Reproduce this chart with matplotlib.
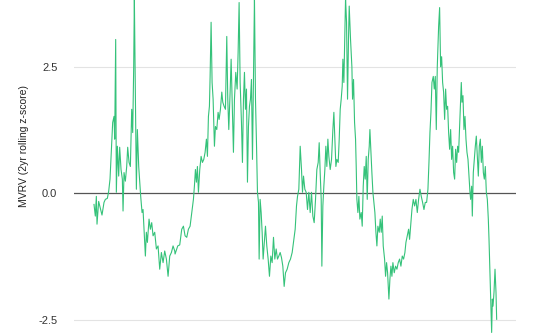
import matplotlib
matplotlib.use('Agg')
import matplotlib.pyplot as plt

# MVRV 2yr rolling z-score (decimal year, value)
years_a = [2012.617, 2012.661, 2012.695, 2012.717, 2012.772, 2012.839, 2012.883, 2012.950, 2012.995,
           2013.061, 2013.106, 2013.150, 2013.195, 2013.239, 2013.284, 2013.306, 2013.339, 2013.361,
           2013.395, 2013.439, 2013.472, 2013.517, 2013.561, 2013.584, 2013.617, 2013.661, 2013.706,
           2013.739, 2013.784, 2013.828, 2013.873, 2013.906, 2013.939, 2013.961, 2013.995, 2014.028,
           2014.061, 2014.106, 2014.150, 2014.172, 2014.217, 2014.250, 2014.284, 2014.328, 2014.361,
           2014.395, 2014.450, 2014.495, 2014.539, 2014.584, 2014.639, 2014.695, 2014.750, 2014.806,
           2014.861, 2014.917, 2014.972, 2015.028, 2015.084, 2015.139, 2015.195, 2015.250, 2015.306]
mvrv_a = [-0.22, -0.45, -0.06, -0.61, -0.16, -0.32, -0.43, -0.18, -0.12,
          -0.10, 0.04, 0.28, 0.87, 1.40, 1.52, 1.07, 3.04, 0.02,
          0.93, 0.34, 0.91, 0.47, 0.28, -0.35, 0.41, 0.24, 0.53,
          0.91, 0.61, 0.53, 1.66, 1.20, 2.50, 3.85, 2.00, 0.08,
          1.26, 0.53, 0.14, -0.06, -0.38, -0.32, -0.71, -1.24, -0.77,
          -0.97, -0.51, -0.71, -0.58, -0.84, -0.77, -1.10, -1.04, -1.50,
          -1.17, -1.37, -1.14, -1.30, -1.64, -1.24, -1.17, -1.04, -1.14]

years_b = [2015.317, 2015.406, 2015.472, 2015.539, 2015.595, 2015.650, 2015.706, 2015.761, 2015.817,
           2015.873, 2015.928, 2015.961, 2015.995, 2016.028, 2016.061, 2016.095, 2016.139, 2016.184,
           2016.228, 2016.273, 2016.317, 2016.361, 2016.395, 2016.428, 2016.461, 2016.484, 2016.517,
           2016.550, 2016.584, 2016.628, 2016.661, 2016.706, 2016.750, 2016.784, 2016.828, 2016.873,
           2016.906, 2016.950, 2016.995, 2017.039, 2017.072, 2017.106, 2017.150, 2017.184, 2017.228,
           2017.261, 2017.295, 2017.339, 2017.384, 2017.417, 2017.450, 2017.484, 2017.528, 2017.561,
           2017.595, 2017.628, 2017.661, 2017.695, 2017.728, 2017.761, 2017.795, 2017.828, 2017.861,
           2017.895, 2017.928, 2017.961, 2017.995, 2018.028, 2018.061, 2018.095, 2018.117, 2018.150,
           2018.184, 2018.217, 2018.250]
mvrv_b = [-1.20, -1.04, -1.02, -0.71, -0.65, -0.84, -0.87, -0.71, -0.65,
          -0.38, -0.12, 0.14, 0.47, 0.22, 0.53, 0.02, 0.47, 0.73,
          0.61, 0.67, 0.81, 1.07, 0.73, 1.52, 1.72, 2.31, 3.38,
          2.19, 1.86, 0.93, 1.32, 1.26, 1.60, 1.46, 1.66, 2.00,
          1.80, 1.72, 1.66, 3.10, 1.86, 1.26, 2.00, 2.65, 1.60,
          0.81, 1.86, 2.39, 2.06, 2.79, 3.77, 2.19, 1.40, 0.61,
          1.86, 2.39, 1.66, 2.06, 0.22, 1.32, 1.72, 1.86, 2.25,
          0.67, 2.31, 3.85, 1.86, 1.00, 0.02, -0.18, -1.30, -0.12,
          -0.38, -0.77, -1.30]

years_c = [2018.328, 2018.372, 2018.417, 2018.461, 2018.506, 2018.550, 2018.595, 2018.639, 2018.684,
           2018.728, 2018.772, 2018.817, 2018.861, 2018.906, 2018.950, 2018.995, 2019.050, 2019.106,
           2019.161, 2019.217, 2019.272, 2019.317, 2019.361, 2019.395, 2019.439, 2019.484, 2019.528,
           2019.561, 2019.595, 2019.639, 2019.684, 2019.728, 2019.772, 2019.817, 2019.861, 2019.906,
           2019.950, 2019.995, 2020.039, 2020.084, 2020.117, 2020.150, 2020.184, 2020.206, 2020.239,
           2020.272, 2020.306, 2020.339, 2020.372, 2020.406, 2020.439, 2020.484, 2020.528, 2020.573,
           2020.606, 2020.639, 2020.673, 2020.706, 2020.750, 2020.784, 2020.817, 2020.850, 2020.884,
           2020.906, 2020.939, 2020.973, 2020.995, 2021.028, 2021.061, 2021.095]
mvrv_c = [-0.65, -1.04, -1.30, -1.64, -1.24, -1.37, -0.87, -1.30, -1.10,
          -1.30, -1.24, -1.17, -1.27, -1.44, -1.84, -1.57, -1.50, -1.37,
          -1.30, -1.17, -0.91, -0.71, -0.25, -0.06, 0.08, 0.93, 0.47,
          0.02, 0.34, 0.08, 0.02, -0.32, 0.02, -0.38, 0.02, -0.45,
          -0.58, -0.12, 0.47, 0.61, 1.00, 0.41, -0.12, -1.44, -0.25,
          0.14, 0.47, 0.93, 0.53, 1.07, 0.73, 0.47, 0.67, 1.26,
          1.60, 1.07, 0.53, 0.67, 0.61, 1.07, 1.66, 1.86, 2.12,
          2.65, 2.19, 3.18, 3.85, 3.38, 1.86, 3.10]

years_d = [2021.117, 2021.161, 2021.206, 2021.228, 2021.261, 2021.295, 2021.328, 2021.350, 2021.372,
           2021.406, 2021.439, 2021.472, 2021.517, 2021.550, 2021.584, 2021.617, 2021.650, 2021.684,
           2021.717, 2021.750, 2021.784, 2021.806, 2021.839, 2021.872, 2021.906, 2021.939, 2021.972,
           2022.006, 2022.039, 2022.072, 2022.117, 2022.150, 2022.184, 2022.217, 2022.250, 2022.295,
           2022.328, 2022.361, 2022.395, 2022.439, 2022.472, 2022.506, 2022.539, 2022.572, 2022.617,
           2022.661, 2022.706, 2022.750, 2022.795, 2022.839, 2022.884, 2022.928, 2022.972, 2023.006,
           2023.050, 2023.095, 2023.128, 2023.161, 2023.206, 2023.250, 2023.295, 2023.339, 2023.384,
           2023.428, 2023.473, 2023.517, 2023.561, 2023.606, 2023.650, 2023.695, 2023.739, 2023.773,
           2023.806, 2023.839, 2023.873, 2023.917, 2023.950, 2023.984, 2024.017, 2024.050, 2024.095]
mvrv_d = [3.70, 3.04, 2.50, 1.86, 2.25, 1.40, 1.07, 0.53, -0.12,
          -0.38, -0.06, -0.51, -0.38, -0.65, 0.14, 0.53, 0.28, 0.73,
          -0.12, 0.67, 0.93, 1.26, 0.81, 0.41, 0.02, -0.18, -0.38,
          -0.77, -1.04, -0.65, -0.77, -0.51, -0.77, -0.45, -1.04, -1.30,
          -1.64, -1.37, -1.57, -2.09, -1.70, -1.44, -1.64, -1.37, -1.57,
          -1.44, -1.50, -1.37, -1.30, -1.44, -1.24, -1.30, -1.17, -0.97,
          -0.84, -0.71, -0.91, -0.65, -0.32, -0.12, -0.25, -0.12, -0.38,
          -0.12, 0.08, -0.06, -0.18, -0.32, -0.18, -0.18, 0.08, 0.61,
          1.20, 1.60, 2.19, 2.31, 2.06, 2.31, 1.26, 2.50, 3.30]

years_e = [2024.128, 2024.161, 2024.195, 2024.228, 2024.261, 2024.295, 2024.328, 2024.361, 2024.395,
           2024.428, 2024.461, 2024.495, 2024.528, 2024.561, 2024.595, 2024.628, 2024.661, 2024.695,
           2024.728, 2024.761, 2024.795, 2024.828, 2024.850, 2024.873, 2024.906, 2024.939, 2024.973,
           2025.006, 2025.039, 2025.073, 2025.106, 2025.139, 2025.161, 2025.195, 2025.217, 2025.250,
           2025.284, 2025.317, 2025.350, 2025.384, 2025.417, 2025.450, 2025.484, 2025.517, 2025.550,
           2025.584, 2025.617, 2025.650, 2025.684, 2025.717, 2025.750, 2025.773, 2025.795, 2025.817,
           2025.839, 2025.861, 2025.884, 2025.906, 2025.939, 2025.973, 2026.006, 2026.028]
mvrv_e = [3.67, 2.50, 2.70, 2.19, 2.00, 1.46, 2.06, 1.66, 1.72,
          1.20, 0.87, 1.26, 0.67, 0.93, 0.41, 0.28, 0.87, 0.61,
          0.93, 0.81, 1.32, 1.86, 2.19, 1.80, 1.93, 1.26, 1.52,
          1.07, 0.81, 0.67, 0.34, 0.02, -0.12, 0.14, -0.45, 0.41,
          0.67, 0.93, 1.13, 0.73, 0.34, 0.93, 1.07, 0.61, 0.93,
          0.41, 0.28, 0.53, 0.02, -0.12, -0.51, -0.91, -1.37, -1.76,
          -2.29, -2.75, -2.09, -2.23, -1.96, -1.50, -1.96, -2.49]

years = years_a + years_b + years_c + years_d + years_e
mvrv = mvrv_a + mvrv_b + mvrv_c + mvrv_d + mvrv_e

yticks = [-2.5, 0.0, 2.5]
ytick_labels = ['-2.5', '0.0', '2.5']

plt.rcParams['font.family'] = ['Liberation Sans', 'DejaVu Sans']

fig = plt.figure(figsize=(5.4, 3.36), dpi=100)
ax = fig.add_axes([0.137, 0.0, 0.819, 1.0])

ax.plot(years, mvrv, color='#35c27a', linewidth=0.8, zorder=3)

ax.axhline(0, color='#555555', linewidth=0.9, zorder=2)
for y in (-2.5, 2.5):
    ax.axhline(y, color='#e3e3e3', linewidth=0.8, zorder=1)

ax.set_xlim(2011.95, 2026.68)
ax.set_ylim(-2.82, 3.82)
ax.set_xticks([])
ax.set_yticks(yticks)
ax.set_yticklabels(ytick_labels)
ax.tick_params(axis='y', length=0, pad=12, labelsize=8, labelcolor='#333333')
for side in ax.spines.values():
    side.set_visible(False)

ax.set_ylabel('MVRV (2yr rolling z-score)', fontsize=7.5, color='#222222')
ax.yaxis.set_label_coords(-0.101, 0.565)

fig.savefig('out.png', dpi=100)
